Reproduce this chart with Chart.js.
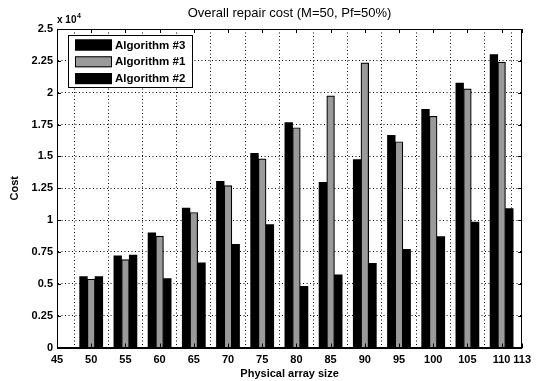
<!DOCTYPE html>
<html>
<head>
<meta charset="utf-8">
<script src="https://cdn.jsdelivr.net/npm/chart.js@4/dist/chart.umd.min.js"></script>
<style>
  html, body { margin: 0; padding: 0; background: #fff; }
  #wrap { width: 537px; height: 381px; position: relative; }
</style>
</head>
<body>
<div id="wrap"><canvas id="c" width="537" height="381"></canvas></div>
<script>
const titleText = 'Overall repair cost (M=50, Pf=50%)';
const xTitle = 'Physical array size';
const yTitle = 'Cost';
const arraySizes = [50, 55, 60, 65, 70, 75, 80, 85, 90, 95, 100, 105, 110];
const algorithm3 = [5570, 7200, 9000, 10950, 13050, 15250, 17650, 12970, 14750, 16650, 18700, 20750, 23000];
const algorithm1 = [5360, 6900, 8750, 10600, 12700, 14800, 17250, 19750, 22350, 16150, 18150, 20300, 22400];
const algorithm2 = [5570, 7250, 5400, 6650, 8100, 9650, 4800, 5700, 6600, 7700, 8700, 9850, 10900];
const seriesNames = ['Algorithm #3', 'Algorithm #1', 'Algorithm #2'];
const xTicks = [45, 50, 55, 60, 65, 70, 75, 80, 85, 90, 95, 100, 105, 110, 113];
const yTicks = [0, 2500, 5000, 7500, 10000, 12500, 15000, 17500, 20000, 22500, 25000];
const yTickLabels = ['0', '0.25', '0.5', '0.75', '1', '1.25', '1.5', '1.75', '2', '2.25', '2.5'];
const yExponentBase = 'x 10';
const yExponent = '4';

const FONT = '"Liberation Sans", Arial, Helvetica, sans-serif';
const pts = (vals) => arraySizes.map((x, i) => ({ x: x, y: vals[i] }));

const frame = {
  id: 'frame',
  afterDraw(chart) {
    const { ctx, chartArea: a, scales } = chart;
    ctx.save();
    ctx.strokeStyle = '#000';
    ctx.lineWidth = 1;
    ctx.strokeRect(Math.round(a.left) + 0.5, Math.round(a.top) + 0.5,
                   Math.round(a.right - a.left) - 1, Math.round(a.bottom - a.top));
    // inward tick marks
    const tl = 4;
    ctx.beginPath();
    scales.x.ticks.forEach(t => {
      const px = Math.round(scales.x.getPixelForValue(t.value)) + 0.5;
      ctx.moveTo(px, a.bottom); ctx.lineTo(px, a.bottom - tl);
      ctx.moveTo(px, a.top); ctx.lineTo(px, a.top + tl);
    });
    scales.y.ticks.forEach(t => {
      const py = Math.round(scales.y.getPixelForValue(t.value)) + 0.5;
      ctx.moveTo(a.left, py); ctx.lineTo(a.left + tl, py);
      ctx.moveTo(a.right, py); ctx.lineTo(a.right - tl, py);
    });
    ctx.stroke();
    // exponent label
    ctx.fillStyle = '#000';
    ctx.textBaseline = 'alphabetic';
    ctx.textAlign = 'left';
    ctx.font = 'bold 10px ' + FONT;
    ctx.fillText(yExponentBase, a.left, a.top - 6);
    const w = ctx.measureText(yExponentBase).width;
    ctx.font = 'bold 7px ' + FONT;
    ctx.fillText(yExponent, a.left + w + 0.5, a.top - 11);
    // legend
    const lx = 68, ly = 35, lw = 124, lh = 52;
    ctx.fillStyle = '#fff';
    ctx.fillRect(lx, ly, lw, lh);
    ctx.strokeStyle = '#000';
    ctx.lineWidth = 1;
    ctx.strokeRect(lx + 0.5, ly + 0.5, lw, lh);
    ctx.font = 'bold 11.5px ' + FONT;
    ctx.textBaseline = 'middle';
    chart.data.datasets.forEach((ds, i) => {
      const cy = 45 + i * 16.8;
      ctx.fillStyle = ds.backgroundColor;
      ctx.fillRect(75, cy - 5.5, 37, 11);
      ctx.strokeStyle = '#000';
      ctx.lineWidth = 1;
      ctx.strokeRect(75.5, cy - 5, 36, 10);
      ctx.fillStyle = '#000';
      ctx.fillText(ds.label, 115, cy + 0.5);
    });
    ctx.restore();
  }
};

new Chart(document.getElementById('c'), {
  type: 'bar',
  data: {
    datasets: [
      { label: seriesNames[0], data: pts(algorithm3), backgroundColor: '#000000', borderColor: '#000000', borderWidth: 0 },
      { label: seriesNames[1], data: pts(algorithm1), backgroundColor: '#9a9a9a', borderColor: '#000000', borderWidth: 1.2 },
      { label: seriesNames[2], data: pts(algorithm2), backgroundColor: '#000000', borderColor: '#000000', borderWidth: 0 }
    ]
  },
  options: {
    responsive: false,
    animation: false,
    devicePixelRatio: 1,
    barThickness: 7.7,
    layout: { padding: { left: 0, right: 14, top: 0, bottom: 0 } },
    plugins: {
      legend: { display: false },
      tooltip: { enabled: false },
      title: {
        display: true,
        text: titleText,
        fullSize: false,
        color: '#000',
        font: { family: FONT, size: 13, weight: 'normal' },
        padding: { top: 6, bottom: 7.4 }
      }
    },
    scales: {
      x: {
        type: 'linear',
        min: 45,
        max: 113,
        offset: false,
        afterBuildTicks: (axis) => { axis.ticks = xTicks.map(v => ({ value: v })); },
        afterFit: (axis) => { axis.height = 33.5; },
        grid: { color: '#000', lineWidth: 1, drawTicks: false },
        border: { display: true, color: '#000', width: 1, dash: [1, 2.5] },
        ticks: {
          color: '#000',
          padding: 6,
          autoSkip: false,
          maxRotation: 0,
          font: { family: FONT, size: 11, weight: 'bold' },
          callback: (v) => String(v)
        },
        title: {
          display: true,
          text: xTitle,
          color: '#000',
          font: { family: FONT, size: 11, weight: 'bold' },
          padding: { top: 0, bottom: 0 }
        }
      },
      y: {
        min: 0,
        max: 25000,
        afterBuildTicks: (axis) => { axis.ticks = yTicks.map(v => ({ value: v })); },
        afterFit: (axis) => { axis.width = 57; },
        grid: { color: '#000', lineWidth: 1, drawTicks: false },
        border: { display: true, color: '#000', width: 1, dash: [1, 2.5] },
        ticks: {
          color: '#000',
          padding: 4,
          font: { family: FONT, size: 11, weight: 'bold' },
          callback: (v) => { const i = yTicks.indexOf(v); return i >= 0 ? yTickLabels[i] : ''; }
        },
        title: {
          display: true,
          text: yTitle,
          color: '#000',
          font: { family: FONT, size: 11, weight: 'bold' },
          padding: { top: 8.4, bottom: 0 }
        }
      }
    }
  },
  plugins: [frame]
});
</script>
</body>
</html>
